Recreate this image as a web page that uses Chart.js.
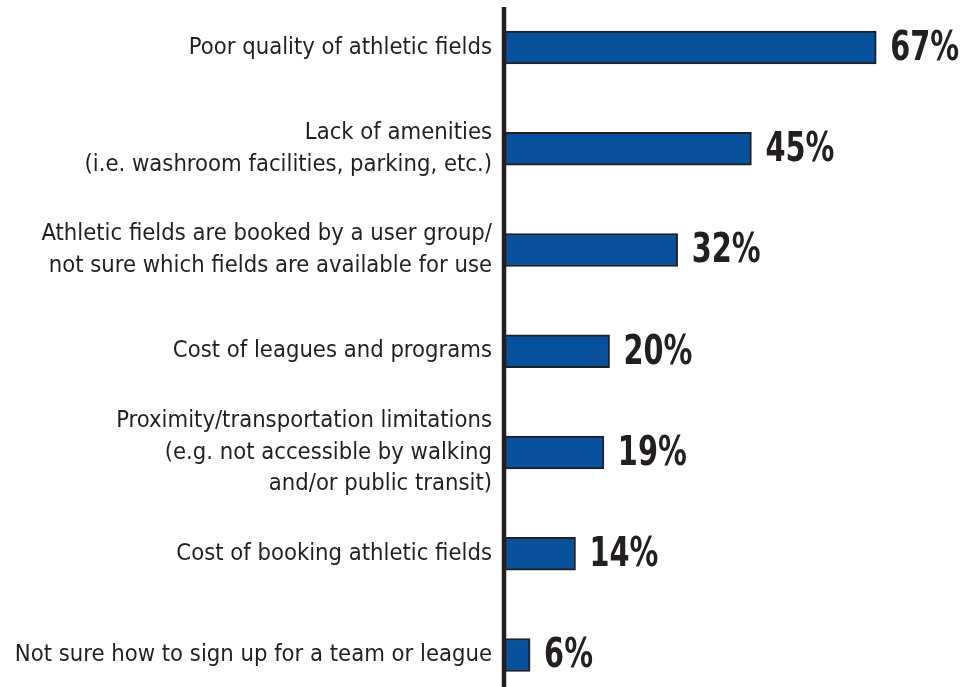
<!DOCTYPE html>
<html><head><meta charset="utf-8">
<script src="https://cdn.jsdelivr.net/npm/chart.js@4"></script>
<style>html,body{margin:0;padding:0;background:#fff;}#wrap{width:978px;height:687px;position:relative;}</style>
</head><body><div id="wrap"><canvas id="c"></canvas></div>
<script>
const categories = [
  "Poor quality of athletic fields",
  ["Lack of amenities", "(i.e. washroom facilities, parking, etc.)"],
  ["Athletic fields are booked by a user group/", "not sure which fields are available for use"],
  "Cost of leagues and programs",
  ["Proximity/transportation limitations", "(e.g. not accessible by walking", "and/or public transit)"],
  "Cost of booking athletic fields",
  "Not sure how to sign up for a team or league"
];
const values = [67, 45, 32, 20, 19, 14, 6];
const valueLabels = ["67%", "45%", "32%", "20%", "19%", "14%", "6%"];

const FONT = "'Liberation Sans Narrow', 'DejaVu Sans Condensed', 'Arial Narrow', sans-serif";
const INK = '#231f20';
const X_MIN = 1.4;

const axisLine = {
  id: 'axisLine',
  afterDatasetsDraw(chart) {
    const ctx = chart.ctx;
    const x = chart.chartArea.left;
    ctx.save();
    ctx.strokeStyle = INK;
    ctx.lineWidth = 4.5;
    ctx.beginPath();
    ctx.moveTo(x, 7);
    ctx.lineTo(x, chart.height);
    ctx.stroke();
    ctx.restore();
  }
};
const valueText = {
  id: 'valueText',
  afterDatasetsDraw(chart) {
    const ctx = chart.ctx;
    const meta = chart.getDatasetMeta(0);
    meta.data.forEach((bar, i) => {
      ctx.save();
      ctx.fillStyle = INK;
      ctx.font = "bold 40px " + FONT;
      ctx.textAlign = 'left';
      ctx.textBaseline = 'middle';
      ctx.translate(bar.x + 14, bar.y + 2);
      ctx.scale(0.8, 1);
      ctx.fillText(valueLabels[i], 0, 0);
      ctx.restore();
    });
  }
};

new Chart(document.getElementById('c'), {
  type: 'bar',
  data: {
    labels: categories,
    datasets: [{
      data: values,
      base: X_MIN,
      backgroundColor: '#07519c',
      borderColor: INK,
      borderWidth: 2,
      borderSkipped: false,
      barThickness: 33,
      clip: false
    }]
  },
  options: {
    indexAxis: 'y',
    responsive: true,
    maintainAspectRatio: false,
    animation: false,
    layout: { padding: { top: 47.5, bottom: 32, left: 0, right: 28 } },
    plugins: { legend: { display: false }, tooltip: { enabled: false } },
    scales: {
      x: { display: false, min: X_MIN, max: 80 },
      y: {
        offset: false,
        border: { display: false },
        grid: { display: false, drawTicks: false },
        ticks: {
          autoSkip: false,
          padding: 12,
          color: INK,
          font: { family: FONT, size: 23.6, lineHeight: 1.33 }
        },
        afterFit(scale) { scale.width = 504; }
      }
    }
  },
  plugins: [axisLine, valueText]
});
</script></body></html>
